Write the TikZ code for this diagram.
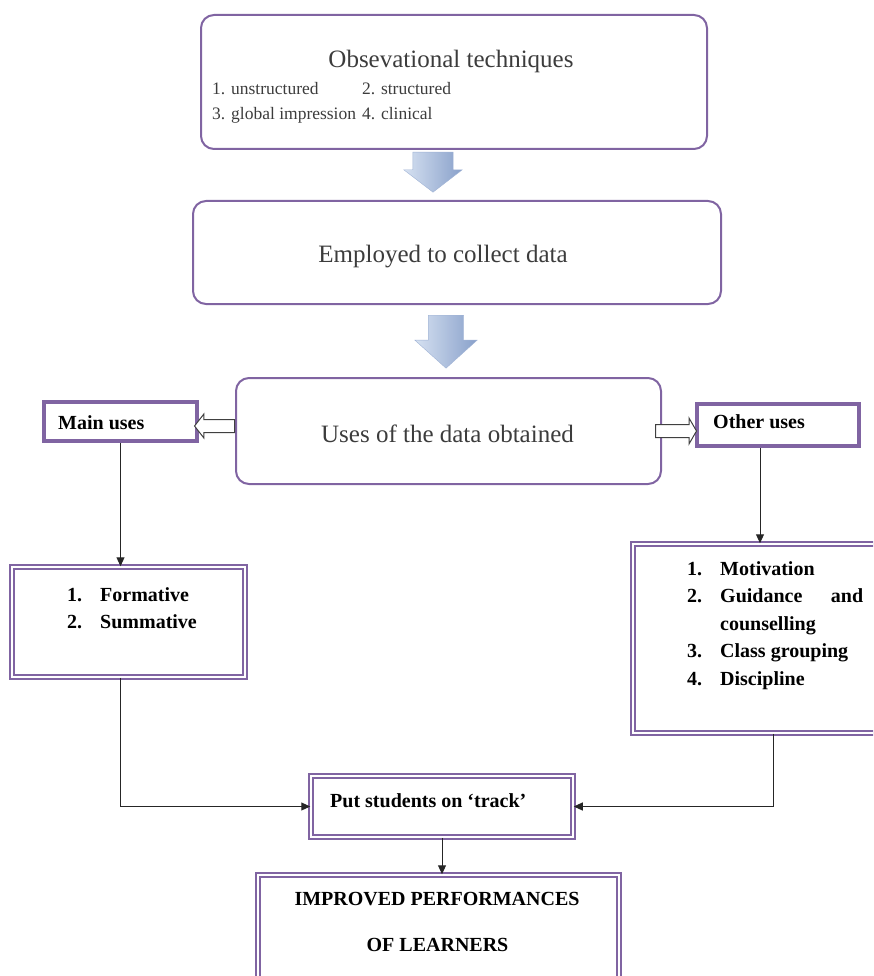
\documentclass[tikz,border=0pt]{standalone}
\usepackage{fontspec}
\setmainfont{Liberation Serif}
\usetikzlibrary{positioning,shapes.arrows,arrows.meta}
\definecolor{boxpurple}{RGB}{128,100,162}
\definecolor{txtgray}{RGB}{60,60,60}
\definecolor{arrowlight}{RGB}{214,225,241}
\definecolor{arrowdark}{RGB}{136,160,202}

\begin{document}
\begin{tikzpicture}[x=1pt, y=-1pt,
  roundbox/.style={draw=boxpurple, line width=2pt, rounded corners=13pt, inner sep=0pt},
  thickbox/.style={draw=boxpurple, line width=3.5pt, inner sep=0pt},
  dblbox/.style={draw=boxpurple, line width=1.5pt, double=white, double distance=2.5pt, inner sep=0pt},
  bigtxt/.style={text=txtgray, font=\fontsize{25}{30}\selectfont, inner sep=0pt},
  smalltxt/.style={text=txtgray, font=\fontsize{17.5}{25}\selectfont, inner sep=0pt},
  boldtxt/.style={font=\bfseries\fontsize{20}{27.5}\selectfont, inner sep=0pt},
  conn/.style={draw=black!85, line width=1pt, -{Triangle[length=9pt,width=8pt]}},
  blockarrow/.style={single arrow, shape border rotate=270, inner ysep=0pt,
    left color=arrowlight, right color=arrowdark, draw=arrowdark!80, line width=0.4pt},
  hollow/.style={single arrow, draw=black!75, fill=white, line width=1pt,
    inner xsep=0pt, inner ysep=6pt}]

  \clip (0,0) rectangle (873,976);
  \useasboundingbox (0,0) rectangle (873,976);

  \node[roundbox, minimum width=506pt, minimum height=134pt] (obs) at (454,82) {};
  \node[roundbox, minimum width=528pt, minimum height=103pt] (emp) at (457,252.5) {};
  \node[roundbox, minimum width=425pt, minimum height=106pt] (usesd) at (448.5,431) {};
  \node[thickbox, minimum width=153pt, minimum height=39pt] (mainu) at (120.5,421.5) {};
  \node[thickbox, minimum width=162pt, minimum height=42pt] (otheru) at (778,425) {};
  \node[dblbox, minimum width=233pt, minimum height=110pt] (form) at (128.5,622) {};
  \node[dblbox, minimum width=257pt, minimum height=189pt] (otherl) at (761.5,638.5) {};
  \node[dblbox, minimum width=262pt, minimum height=61pt] (put) at (442,806.5) {};
  \node[dblbox, minimum width=361pt, minimum height=115pt] (impr) at (438.5,932.5) {};

  \node[bigtxt, anchor=base] (obstitle) at (451,68) {Obsevational techniques};
  \node[smalltxt, anchor=base west] (obslist) at (212,95)
    {\begin{tabular}[t]{@{}l@{\hspace{6pt}}l@{}}
      1. unstructured & 2. structured\\
      3. global impression & 4. clinical
    \end{tabular}};
  \node[bigtxt, anchor=base] (emptxt) at (443,262) {Employed to collect data};
  \node[bigtxt, anchor=base] (usestxt) at (447.5,442) {Uses of the data obtained};
  \node[boldtxt, anchor=base west] (maintxt) at (58,429) {Main uses};
  \node[boldtxt, anchor=base west] (othertxt) at (713,428) {Other uses};
  \node[boldtxt, anchor=base west] (formtxt) at (67,601)
    {\begin{tabular}[t]{@{}p{33pt}@{}l@{}}
      1. & Formative\\
      2. & Summative
    \end{tabular}};
  \node[boldtxt, anchor=base west] (othertxtl) at (687,575)
    {\begin{tabular}[t]{@{}p{33pt}@{}l@{}}
      1. & Motivation\\
      2. & \makebox[143pt][l]{Guidance\hfill and}\\
         & counselling\\
      3. & Class grouping\\
      4. & Discipline
    \end{tabular}};
  \node[boldtxt, anchor=base west] (puttxt) at (330,807) {Put students on ‘track’};
  \node[boldtxt, anchor=base] (imprtop) at (437,905) {IMPROVED PERFORMANCES};
  \node[boldtxt, anchor=base] (imprbot) at (437.5,951) {OF LEARNERS};

  \node[blockarrow, anchor=tail, minimum height=40pt, inner xsep=20pt,
    single arrow head extend=9pt, single arrow tip angle=105] (down1) at (433,152) {};
  \node[blockarrow, anchor=tail, minimum height=53pt, inner xsep=17.5pt,
    single arrow head extend=13.5pt, single arrow tip angle=96] (down2) at (446,315) {};

  \node[hollow, anchor=tail, shape border rotate=180, minimum height=40pt,
    single arrow head extend=5.5pt, single arrow tip angle=104] (toleft) at (usesd.west |- 0,426) {};
  \node[hollow, anchor=tail, minimum height=41pt,
    single arrow head extend=6.5pt, single arrow tip angle=120] (toright) at (655,431) {};

  \draw[conn] (mainu.south) -- (mainu.south |- form.north);
  \draw[conn] ([xshift=-18pt]otheru.south) -- ([xshift=-18pt]otheru.south |- otherl.north);
  \draw[conn] (mainu.south |- form.south) |- (put.west);
  \draw[conn] ([xshift=12pt]otherl.south) |- (put.east);
  \draw[conn] (put.south) -- (put.south |- impr.north);

\end{tikzpicture}
\end{document}
